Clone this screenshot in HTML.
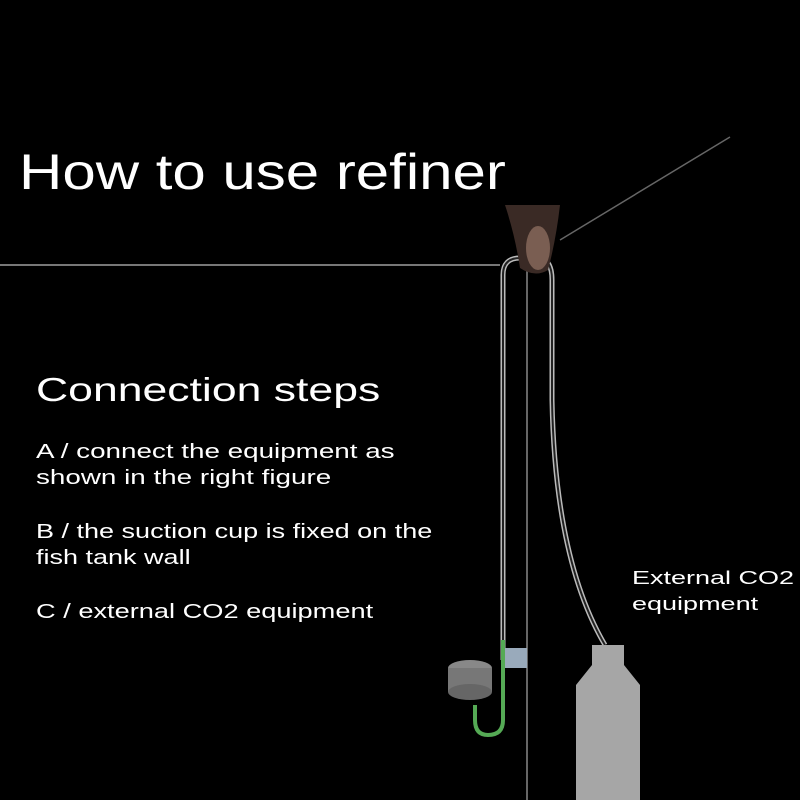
<!DOCTYPE html>
<html><head><style>
body{margin:0;background:#000;}
#c{position:relative;width:800px;height:800px;background:#000;overflow:hidden;font-family:"Liberation Sans",sans-serif;color:#fff;}
.t{position:absolute;white-space:nowrap;transform-origin:0 0;}
</style></head><body><div id="c">
<svg width="800" height="800" style="position:absolute;left:0;top:0">
<line x1="0" y1="265" x2="500" y2="265" stroke="#777" stroke-width="2"/>
<line x1="560" y1="240" x2="730" y2="137" stroke="#666" stroke-width="1.5"/>
<line x1="527" y1="270" x2="527" y2="800" stroke="#888" stroke-width="1.5"/>
<path d="M503,660 L503,275 Q503,258 520,258 L537,258 Q552,258 552,280 L552,400 Q555,560 605,645" fill="none" stroke="#bbb" stroke-width="5"/>
<path d="M503,660 L503,275 Q503,258 520,258 L537,258 Q552,258 552,280 L552,400 Q555,560 605,645" fill="none" stroke="#222" stroke-width="2"/>
<path d="M503,640 L503,720 Q503,735 488,735 Q475,735 475,720 L475,705" fill="none" stroke="#5a5" stroke-width="4"/>
<ellipse cx="470" cy="668" rx="22" ry="8" fill="#888"/>
<rect x="448" y="668" width="44" height="24" fill="#777"/>
<ellipse cx="470" cy="692" rx="22" ry="8" fill="#666"/>
<rect x="505" y="648" width="22" height="20" fill="#9ab"/>
<path d="M520,268 Q515,235 505,205 L560,205 Q556,240 548,270 Q535,278 520,268 Z" fill="#3a2a25"/>
<ellipse cx="538" cy="248" rx="12" ry="22" fill="#7a5e52"/>
<path d="M592,645 L624,645 L624,665 L640,685 L640,800 L576,800 L576,685 L592,665 Z" fill="#a6a6a6"/>
</svg>
<div class="t" style="left:19px;top:143px;font-size:50px;transform:scaleX(1.2)">How to use refiner</div>
<div class="t" style="left:36px;top:371px;font-size:33px;transform:scaleX(1.35)">Connection steps</div>
<div class="t" style="left:36px;top:439px;font-size:20px;line-height:26px;transform:scaleX(1.39)">A / connect the equipment as<br>shown in the right figure</div>
<div class="t" style="left:36px;top:519px;font-size:20px;line-height:26px;transform:scaleX(1.35)">B / the suction cup is fixed on the<br>fish tank wall</div>
<div class="t" style="left:36px;top:599px;font-size:20px;line-height:26px;transform:scaleX(1.36)">C / external CO2 equipment</div>
<div class="t" style="left:632px;top:565px;font-size:18px;line-height:26px;transform:scaleX(1.5)">External CO2<br>equipment</div>
</div></body></html>
